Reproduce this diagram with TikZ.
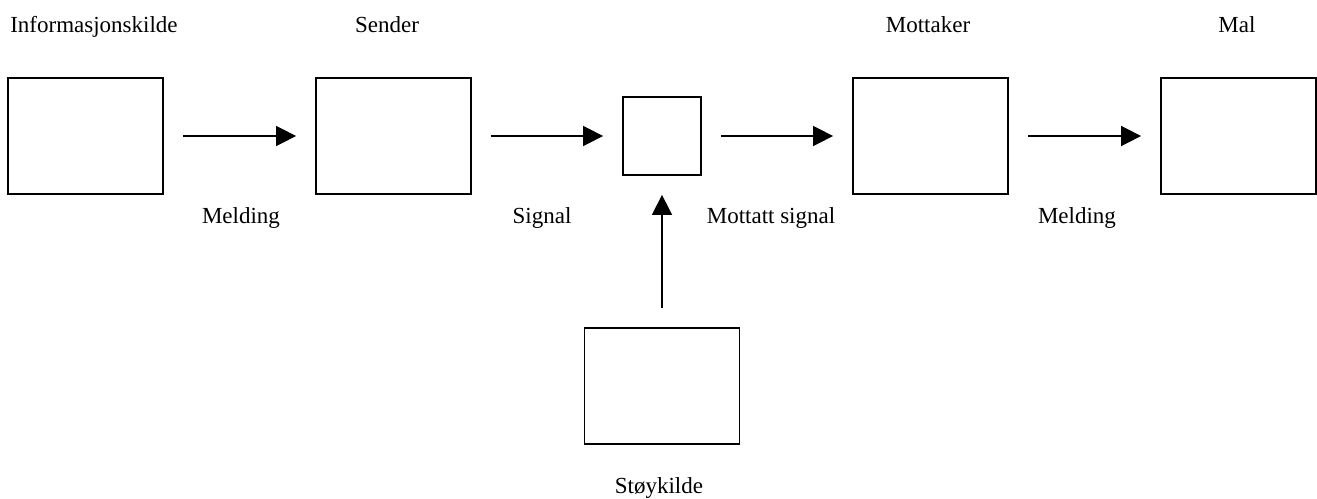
\documentclass[tikz,border=0pt]{standalone}
\usepackage{fontspec}
\setmainfont{Liberation Serif}
\usetikzlibrary{arrows.meta}
\begin{document}
\begin{tikzpicture}[x=1pt,y=-1pt,
  blk/.style={draw=black,line width=1.8pt,rectangle,inner sep=0pt,minimum width=155pt,minimum height=116pt},
  sq/.style={draw=black,line width=1.8pt,rectangle,inner sep=0pt,minimum width=78pt,minimum height=78pt},
  lbl/.style={font=\fontsize{23}{26}\selectfont,anchor=base,inner sep=0pt},
  arr/.style={line width=1.6pt,-{Triangle[length=20pt,width=20pt]},shorten <=19pt,shorten >=19pt}]
\useasboundingbox (0,0) rectangle (1317,498);
\node[blk] (src) at (85.5,136) {};
\node[blk] (snd) at (393.5,136) {};
\node[sq]  (ch)  at (662,136) {};
\node[blk] (rcv) at (930.5,136) {};
\node[blk] (dst) at (1238.5,136) {};
\node[blk] (noise) at (662,386) {};
\draw[arr] (src) -- (snd);
\draw[arr] (snd) -- (ch);
\draw[arr] (ch) -- (rcv);
\draw[arr] (rcv) -- (dst);
\draw[arr] (noise) -- (ch);
\node[lbl] (t1) at (94,32) {Informasjonskilde};
\node[lbl] (t2) at (387,32) {Sender};
\node[lbl] (t3) at (928,32) {Mottaker};
\node[lbl] (t4) at (1237,32) {Mal};
\node[lbl] (m1) at (241,223) {Melding};
\node[lbl] (m2) at (542,223) {Signal};
\node[lbl] (m3) at (771,223) {Mottatt signal};
\node[lbl] (m4) at (1077,223) {Melding};
\node[lbl] (m5) at (659,493) {Støykilde};
\end{tikzpicture}
\end{document}
